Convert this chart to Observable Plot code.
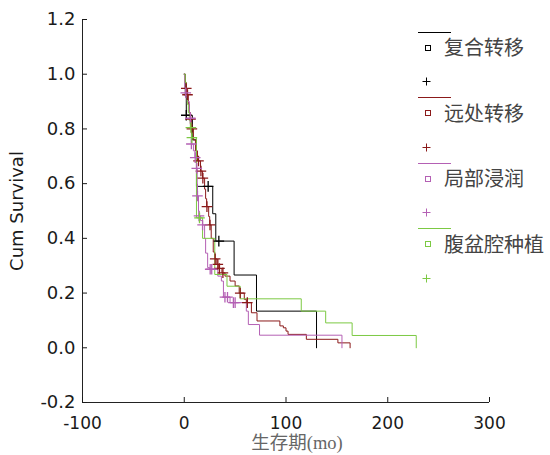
<!DOCTYPE html>
<html><head><meta charset="utf-8">
<script src="https://cdn.jsdelivr.net/npm/d3@7"></script>
<script src="https://cdn.jsdelivr.net/npm/@observablehq/plot@0.6"></script>
<style>
body{margin:0;background:#fff;}
#wrap{position:relative;width:550px;height:455px;overflow:hidden;}
.lg{position:absolute;}
.lgtext{position:absolute;font-family:"Noto Sans CJK SC",sans-serif;font-size:20px;color:#444;line-height:20px;white-space:nowrap;}
</style></head><body><div id="wrap"></div>
<script>
// categories
const groups = ["复合转移", "远处转移", "局部浸润", "腹盆腔种植"];
const colors = ["#000000", "#8b1a1a", "#b460b4", "#7cc943"];

// axis ticks
const xTicks = [-100, 0, 100, 200, 300];
const yTicks = [-0.2, 0, 0.2, 0.4, 0.6, 0.8, 1.0, 1.2];
const xDomain = [-100, 300];
const yDomain = [-0.2, 1.2];

// 复合转移
const t1 = [0, 1, 2, 8, 12, 28, 31, 49, 71, 130];
const s1 = [1.0, 0.92, 0.85, 0.76, 0.59, 0.49, 0.39, 0.266, 0.134, 0];
const ct1 = [2, 23.5, 34];
const cs1 = [0.85, 0.59, 0.39];

// 远处转移
const t2 = [0, 1, 2, 3, 4, 5, 6, 7, 9, 11, 13, 16, 18, 20, 21, 22, 24, 25, 26.5, 28.5, 30, 32, 34, 37, 40, 45, 50, 54, 59, 61, 66, 71.5, 94, 97.4, 100, 102, 120, 151, 163];
const s2 = [1.0, 0.97, 0.948, 0.925, 0.89, 0.86, 0.836, 0.80, 0.76, 0.72, 0.683, 0.646, 0.62, 0.58, 0.545, 0.516, 0.48, 0.449, 0.40, 0.35, 0.325, 0.305, 0.29, 0.274, 0.262, 0.244, 0.226, 0.20, 0.177, 0.165, 0.128, 0.098, 0.08, 0.073, 0.061, 0.049, 0.031, 0.018, 0];
const ct2 = [2, 3.2, 6.2, 7.5, 14, 16.4, 18.3, 22.3, 25.3, 30.4, 33, 34.6, 38, 55, 62];
const cs2 = [0.948, 0.925, 0.836, 0.80, 0.683, 0.646, 0.62, 0.516, 0.449, 0.325, 0.305, 0.29, 0.274, 0.20, 0.165];

// 局部浸润
const t3 = [0, 0.5, 1.5, 3, 5, 6, 6.5, 7, 9, 10.5, 12, 12.7, 13, 14, 14.5, 16, 18, 20, 21, 23, 25, 33, 36.5, 38.5, 45, 61, 63, 74, 155];
const s3 = [1.0, 0.95, 0.932, 0.90, 0.86, 0.839, 0.80, 0.745, 0.72, 0.695, 0.656, 0.60, 0.555, 0.50, 0.482, 0.465, 0.449, 0.40, 0.346, 0.293, 0.287, 0.262, 0.244, 0.185, 0.165, 0.134, 0.085, 0.046, 0];
const ct3 = [1.5, 6, 7, 10.8, 12.3, 13, 14.5, 18, 25.5, 27, 40, 42.5, 48.3, 50];
const cs3 = [0.932, 0.839, 0.745, 0.695, 0.656, 0.555, 0.482, 0.449, 0.287, 0.287, 0.185, 0.185, 0.165, 0.165];

// 腹盆腔种植
const t4 = [0, 1, 2, 3, 4, 5, 6, 7.3, 12, 18, 30, 42, 55, 115, 139, 165, 228];
const s4 = [1.0, 0.97, 0.93, 0.89, 0.86, 0.83, 0.805, 0.768, 0.475, 0.40, 0.268, 0.225, 0.179, 0.134, 0.091, 0.045, 0];
const ct4 = [6.5, 7.5, 15];
const cs4 = [0.805, 0.768, 0.475];

const T = [t1, t2, t3, t4], S = [s1, s2, s3, s4];
const CT = [ct1, ct2, ct3, ct4], CS = [cs1, cs2, cs3, cs4];

const marks = [];
groups.forEach((g, i) => {
  const pts = T[i].map((t, j) => ({t, s: S[i][j]}));
  marks.push(Plot.line(pts, {x: "t", y: "s", stroke: colors[i], strokeWidth: 1, curve: "step-after"}));
});
groups.forEach((g, i) => {
  const cz = CT[i].map((t, j) => ({t, s: CS[i][j]}));
  marks.push(Plot.dot(cz, {x: "t", y: "s", symbol: "plus", r: 3.5, stroke: colors[i], strokeWidth: 1.3}));
});

const chart = Plot.plot({
  width: 550,
  height: 455,
  marginLeft: 82,
  marginRight: 61,
  marginTop: 19,
  marginBottom: 53,
  style: {fontFamily: "DejaVu Sans", color: "#1a1a1a", background: "transparent"},
  x: {domain: xDomain},
  y: {domain: yDomain},
  marks: [
    ...marks,
    Plot.ruleX([xDomain[0]], {stroke: "#222"}),
    Plot.ruleY([yDomain[0]], {stroke: "#222"}),
    Plot.axisY({ticks: yTicks, tickFormat: d => d.toFixed(1), tickSize: -5, tickPadding: 12, fontSize: 18,
      label: "Cum Survival", labelAnchor: "center", labelOffset: 72, labelArrow: false}),
    Plot.axisX({ticks: xTicks, tickFormat: d => String(d), tickSize: -5, tickPadding: 19, fontSize: 17, label: null}),
    Plot.text(["生存期(mo)"], {frameAnchor: "bottom", dy: 41, dx: 11, fontSize: 18.5, fill: "#666",
      fontFamily: "'Liberation Serif', 'Noto Sans CJK SC', serif", lineAnchor: "middle"})
  ]
});

const wrap = document.getElementById("wrap");
wrap.appendChild(chart);

// legend overlay
groups.forEach((g, i) => {
  const y0 = 32 + 65.5 * i;
  const c = colors[i];
  const line = document.createElement("div");
  line.className = "lg";
  Object.assign(line.style, {left: "418px", top: (y0 - 0.5) + "px", width: "33px", height: "0", borderTop: "1px solid " + c});
  wrap.appendChild(line);
  const sq = document.createElement("div");
  sq.className = "lg";
  Object.assign(sq.style, {left: "424.5px", top: (y0 + 12.5) + "px", width: "4px", height: "4px", border: "1px solid " + c});
  wrap.appendChild(sq);
  const tx = document.createElement("div");
  tx.className = "lgtext";
  tx.textContent = g;
  Object.assign(tx.style, {left: "444px", top: (y0 + 5) + "px"});
  wrap.appendChild(tx);
  const pl = document.createElement("div");
  pl.className = "lg";
  pl.innerHTML = `<svg width="9" height="9"><path d="M0.5 4.5H8.5M4.5 0.5V8.5" stroke="${c}" stroke-width="1" fill="none"/></svg>`;
  Object.assign(pl.style, {left: "421.5px", top: (y0 + 45) + "px", lineHeight: "0"});
  wrap.appendChild(pl);
});
</script></body></html>
